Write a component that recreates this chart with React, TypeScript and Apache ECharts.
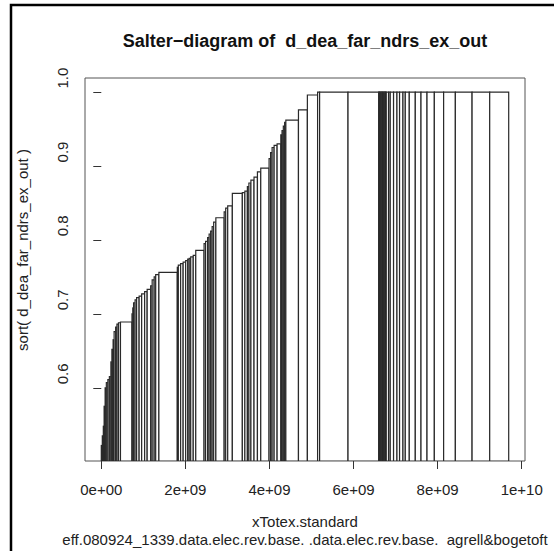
import React, { useEffect, useRef } from "react";
import * as echarts from "echarts";

// Company totex (in millions), sorted by efficiency
const widths: number[] = [
  24, 24, 19, 24, 29, 36, 36, 36, 24, 29, 24, 36, 31, 36, 48,
  274,
  19, 19, 36, 36, 60, 60, 71, 60, 83, 36, 48, 36, 76,
  438,
  24, 55, 60, 60, 48, 36, 36, 60, 60,
  198,
  36, 48, 36, 36, 36, 36, 52,
  198,
  36, 48, 110,
  238,
  60, 60, 36, 48, 74, 81,
  79,
  198,
  36, 36, 48,
  71, 88,
  29, 31, 31, 29,
  300,
  212,
  243,
  48, 676, 729,
  18, 18, 18, 18, 18, 18, 18, 18, 18, 18,
  55, 40, 79, 81, 62, 81, 55, 95, 143, 136, 143, 174, 221, 279, 398, 419, 452,
];

// Sorted efficiency scores
const efficiency: number[] = [
  0.522, 0.535, 0.548, 0.575, 0.6, 0.607, 0.611, 0.615, 0.635, 0.652, 0.665, 0.676, 0.682, 0.686, 0.688,
  0.689,
  0.7, 0.708, 0.715, 0.719, 0.722, 0.724, 0.727, 0.73, 0.733, 0.738, 0.746, 0.75, 0.753,
  0.756,
  0.763, 0.766, 0.768, 0.77, 0.772, 0.774, 0.775, 0.777, 0.779,
  0.786,
  0.795, 0.798, 0.803, 0.808, 0.812, 0.818, 0.824,
  0.83,
  0.838, 0.843, 0.846,
  0.863,
  0.864, 0.866, 0.872, 0.877, 0.881, 0.885,
  0.892,
  0.897,
  0.91, 0.918, 0.925,
  0.928, 0.93,
  0.942, 0.948, 0.954, 0.959,
  0.962,
  0.976,
  0.996,
  1, 1, 1,
  1, 1, 1, 1, 1, 1, 1, 1, 1, 1,
  1, 1, 1, 1, 1, 1, 1, 1, 1, 1, 1, 1, 1, 1, 1, 1, 1,
];

const xTicks: number[] = [0, 2e9, 4e9, 6e9, 8e9, 1e10];
const xTickLabels: string[] = ["0e+00", "2e+09", "4e+09", "6e+09", "8e+09", "1e+10"];
const yTicks: number[] = [0.6, 0.7, 0.8, 0.9, 1.0];
const yTickLabels: string[] = ["0.6", "0.7", "0.8", "0.9", "1.0"];

const titleText = "Salter\u2212diagram of  d_dea_far_ndrs_ex_out";
const xName = "xTotex.standard";
const yName = "sort( d_dea_far_ndrs_ex_out )";
const subText = "eff.080924_1339.data.elec.rev.base. .data.elec.rev.base.  agrell&bogetoft";

const FONT = "'Liberation Sans', Arial, Helvetica, sans-serif";

export default function App() {
  const ref = useRef<HTMLDivElement>(null);
  useEffect(() => {
    if (!ref.current) return;
    const chart = echarts.init(ref.current, undefined, { renderer: "svg" });

    const data: number[][] = [];
    let acc = 0;
    widths.forEach((w, i) => {
      const x0 = acc;
      const x1 = acc + w * 1e6;
      acc = x1;
      data.push([x0, x1, efficiency[i]]);
    });
    const xMax = acc;
    const xPad = xMax * 0.04;

    const xLabelMap: Record<string, string> = {};
    xTicks.forEach((t, i) => (xLabelMap[String(t)] = xTickLabels[i]));

    const staticGraphics: any[] = [
      {
        type: "rect",
        shape: { x: 11, y: 5, width: 700, height: 700 },
        style: { fill: "none", stroke: "#000", lineWidth: 2.5 },
        silent: true,
      },
      {
        type: "text",
        x: 305,
        y: 41,
        style: {
          text: titleText,
          fill: "#111",
          font: `bold 18px ${FONT}`,
          textAlign: "center",
          textVerticalAlign: "middle",
        },
      },
      {
        type: "text",
        x: 305,
        y: 539,
        style: {
          text: subText,
          fill: "#222",
          font: `15px ${FONT}`,
          textAlign: "center",
          textVerticalAlign: "middle",
        },
      },
      {
        type: "text",
        x: 22,
        y: 250,
        rotation: Math.PI / 2,
        style: {
          text: yName,
          fill: "#222",
          font: `15px ${FONT}`,
          textAlign: "center",
          textVerticalAlign: "middle",
        },
      },
    ];

    chart.setOption({
      animation: false,
      backgroundColor: "#fff",
      grid: {
        left: 85,
        top: 78,
        right: 29,
        bottom: 90,
        show: true,
        borderColor: "#555",
        borderWidth: 1,
        backgroundColor: "transparent",
      },
      xAxis: {
        type: "value",
        min: -xPad,
        max: xMax + xPad,
        splitLine: { show: false },
        axisLine: { show: false },
        axisTick: {
          show: true,
          length: 8,
          customValues: xTicks,
          lineStyle: { color: "#333", width: 1 },
        },
        axisLabel: {
          customValues: xTicks,
          margin: 21,
          color: "#222",
          fontSize: 15,
          fontFamily: FONT,
          formatter: (v: number) => xLabelMap[String(v)] ?? "",
        },
        name: xName,
        nameLocation: "middle",
        nameGap: 53,
        nameTextStyle: { color: "#222", fontSize: 15, fontFamily: FONT },
      },
      yAxis: {
        type: "value",
        min: 0.501,
        max: 1.019,
        splitLine: { show: false },
        axisLine: { show: false },
        axisTick: {
          show: true,
          length: 8,
          customValues: yTicks,
          lineStyle: { color: "#333", width: 1 },
        },
        axisLabel: { show: false },
      },
      graphic: staticGraphics,
      series: [
        {
          type: "custom",
          clip: true,
          encode: { x: [0, 1], y: 2 },
          data,
          renderItem: (params: any, api: any) => {
            const x0 = api.value(0);
            const x1 = api.value(1);
            const v = api.value(2);
            const p0 = api.coord([x0, v]);
            const p1 = api.coord([x1, v]);
            const cs = params.coordSys;
            const bottom = cs.y + cs.height;
            return {
              type: "rect",
              shape: { x: p0[0], y: p0[1], width: p1[0] - p0[0], height: bottom - p0[1] },
              style: { fill: "#fff", stroke: "#2a2a2a", lineWidth: 1.2 },
            };
          },
        },
      ],
    });

    // y tick labels, placed from the axis scale (rotated as in R)
    const yLabelGraphics = yTicks.map((t, i) => {
      const py = chart.convertToPixel({ yAxisIndex: 0 }, t) as number;
      return {
        type: "text",
        x: 62,
        y: py - 14,
        rotation: Math.PI / 2,
        style: {
          text: yTickLabels[i],
          fill: "#222",
          font: `15px ${FONT}`,
          textAlign: "center",
          textVerticalAlign: "middle",
        },
      };
    });
    chart.setOption({ graphic: [...staticGraphics, ...yLabelGraphics] }, { replaceMerge: ["graphic"] });

    return () => chart.dispose();
  }, []);
  return (
    <div
      ref={ref}
      style={{ position: "fixed", left: 0, top: 0, width: 554, height: 551, background: "#fff" }}
    />
  );
}
